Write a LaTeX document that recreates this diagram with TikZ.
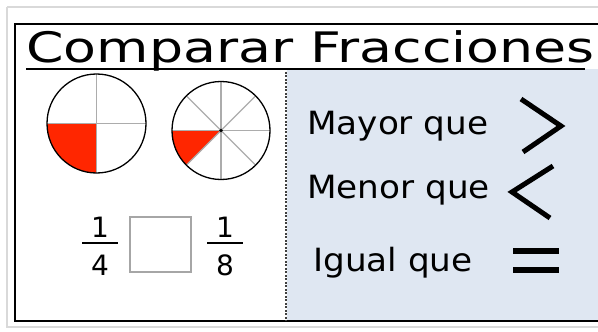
\documentclass[tikz,border=0pt]{standalone}
\usepackage{fontspec}
\setmainfont{DejaVu Sans}
\usetikzlibrary{positioning}
\definecolor{panelblue}{RGB}{223,231,242}
\definecolor{slicered}{RGB}{255,38,0}

\begin{document}
\begin{tikzpicture}[
    x=1pt, y=-1pt,
    frame/.style={line width=2.6pt},
    spoke/.style={gray!65, line width=1.3pt},
    rim/.style={line width=1.3pt},
    word/.style={font=\fontsize{32}{36}\selectfont, xscale=1.07, anchor=base west, inner sep=0pt},
    digit/.style={font=\fontsize{28}{30}\selectfont, inner sep=0pt},
    bar/.style={line width=2.4pt},
    sym/.style={line width=5pt}
]
\useasboundingbox (0,0) rectangle (598,332);

% outer paper edge and panel
\draw[gray!30, line width=2pt] (7,7) -- (600,7);
\draw[gray!30, line width=2pt] (7,7) -- (7,327) -- (600,327);
\fill[panelblue] (287,69) rectangle (600,321);
\draw[frame] (600,24) -- (15,24) -- (15,321) -- (600,321);
\draw[black!75, line width=1.3pt, dash pattern=on 2pt off 1.5pt] (286,68) -- (286,321);

% title
\node[font=\fontsize{42}{46}\selectfont, xscale=1.28, anchor=base west, inner sep=0pt] (title) at (26,62) {Comparar Fracciones};
\draw[line width=2.6pt] (26,69) -- (585,69);

% one quarter
\fill[slicered] (96.5,123.5) -- (47,123.5) arc[start angle=180, end angle=90, radius=49.5] -- cycle;
\draw[spoke] (96.5,74) -- (96.5,173);
\draw[spoke] (47,123.5) -- (146,123.5);
\draw[rim] (96.5,123.5) circle[radius=49.5];

% one eighth
\fill[slicered] (221,130.5) -- (172,130.5) arc[start angle=180, end angle=135, radius=49] -- cycle;
\foreach \a in {0,45,...,315}
  \draw[spoke] (221,130.5) -- ++(\a:49);
\draw[rim] (221,130.5) circle[radius=49];
\fill (221,130.5) circle[radius=1.8];

% fractions to compare
\node[digit] (num1) at (100,227) {1};
\node[digit] (den1) at (100,265) {4};
\draw[bar] (82,243) -- (118,243);
\node[draw=gray!70, line width=1.2pt, minimum width=61pt, minimum height=55pt, inner sep=0pt] (cmp) at (160.5,244.5) {};
\node[digit] (num2) at (225,227) {1};
\node[digit] (den2) at (225,265) {8};
\draw[bar] (207,243) -- (243,243);

% relation signs
\node[word] (mayor) at (307,134) {Mayor que};
\node[word] (menor) at (307,198) {Menor que};
\node[word] (igual) at (313,271) {Igual que};
\draw[sym, line join=miter] (521,99) -- (561,126) -- (523,152);
\draw[sym, line join=miter] (553,166) -- (512,192) -- (550,218);
\draw[line width=6pt] (513,251) -- (559,251);
\draw[line width=6pt] (513,270) -- (559,270);

\end{tikzpicture}
\end{document}
